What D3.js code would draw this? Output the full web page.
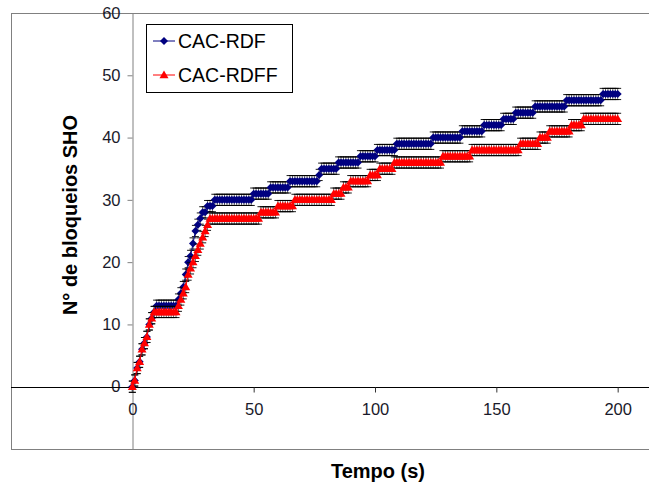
<!DOCTYPE html>
<html lang="pt">
<head>
<meta charset="UTF-8">
<title>N° de bloqueios SHO</title>
<script src="https://d3js.org/d3.v7.min.js"></script>
<style>
  body { margin: 0; background: #fff; }
  svg { display: block; font-family: "Liberation Sans", Arial, sans-serif; }
  .tick text { font-size: 16.5px; fill: #1a1a2a; }
</style>
</head>
<body>
<script>
// time in seconds, one point per second
const tempo = d3.range(0, 201);

// CAC-RDF (blue diamonds)
const cacRdf = [
  0,1,3,4,6,7,8,10,11,12,
  13,13,13,13,13,13,13,13,13,14,
  15,16,18,20,21,23,25,26,27,28,
  28,29,29,29,30,30,30,30,30,30,
  30,30,30,30,30,30,30,30,30,30,
  31,31,31,31,31,31,31,32,32,32,
  32,32,32,32,32,33,33,33,33,33,
  33,33,33,33,33,33,33,34,35,35,
  35,35,35,35,35,36,36,36,36,36,
  36,36,36,36,37,37,37,37,37,37,
  37,38,38,38,38,38,38,38,38,39,
  39,39,39,39,39,39,39,39,39,39,
  39,39,39,39,40,40,40,40,40,40,
  40,40,40,40,40,40,41,41,41,41,
  41,41,41,41,41,42,42,42,42,42,
  42,42,42,43,43,43,43,43,44,44,
  44,44,44,44,44,44,45,45,45,45,
  45,45,45,45,45,45,45,45,45,46,
  46,46,46,46,46,46,46,46,46,46,
  46,46,46,46,47,47,47,47,47,47,
  47
];

// CAC-RDFF (red triangles)
const cacRdff = [
  0,1,3,4,6,7,8,10,11,12,
  12,12,12,12,12,12,12,12,12,13,
  14,15,16,18,19,20,21,22,23,24,
  25,26,27,27,27,27,27,27,27,27,
  27,27,27,27,27,27,27,27,27,27,
  27,27,27,28,28,28,28,28,28,28,
  29,29,29,29,29,29,29,30,30,30,
  30,30,30,30,30,30,30,30,30,30,
  30,30,30,31,31,31,31,32,32,32,
  33,33,33,33,33,33,33,33,34,34,
  34,34,35,35,35,35,35,35,36,36,
  36,36,36,36,36,36,36,36,36,36,
  36,36,36,36,36,36,36,36,37,37,
  37,37,37,37,37,37,37,37,37,37,
  38,38,38,38,38,38,38,38,38,38,
  38,38,38,38,38,38,38,38,38,38,
  39,39,39,39,39,39,39,39,40,40,
  40,40,41,41,41,41,41,41,41,41,
  41,42,42,42,42,42,43,43,43,43,
  43,43,43,43,43,43,43,43,43,43,
  43
];

const errAmount = 0.9;
const xTicks = [0, 50, 100, 150, 200];
const yTicks = [-10, 0, 10, 20, 30, 40, 50, 60];

const width = 649, height = 487;

const svg = d3.select("body").append("svg")
    .attr("width", width)
    .attr("height", height);

// plot area
const x = d3.scaleLinear().domain([-50, 250]).range([11, 739]);
const y = d3.scaleLinear().domain([-10, 60]).range([449, 13]);

svg.append("rect")
    .attr("x", 11.5).attr("y", 13.5)
    .attr("width", 760).attr("height", 436)
    .attr("fill", "none")
    .attr("stroke", "#808080");

// y axis at x = 0
const yAxis = svg.append("g")
    .attr("transform", `translate(${Math.round(x(0)) + 0.5},0)`)
    .call(d3.axisLeft(y).tickValues(yTicks).tickSize(5).tickPadding(7)
        .tickFormat(d => d < 0 ? "" : d));
yAxis.select(".domain").attr("stroke", "#808080");
yAxis.selectAll(".tick line").attr("stroke", "#808080");

// x axis at y = 0
const xAxis = svg.append("g")
    .attr("transform", `translate(0,${Math.round(y(0)) + 0.5})`)
    .call(d3.axisBottom(x).tickValues(xTicks).tickSize(5).tickPadding(11));
xAxis.select(".domain").attr("d", `M11,0H${width}`).attr("stroke", "#000");
xAxis.selectAll(".tick line").attr("stroke", "#333");

const series = [
  {name: "CAC-RDF", values: cacRdf, color: "#000080", shape: "diamond"},
  {name: "CAC-RDFF", values: cacRdff, color: "#ff0000", shape: "triangle"}
];

const shapes = {
  diamond: "M0,-4L4,0L0,4L-4,0Z",
  triangle: "M0,-4.5L4.5,3.2L-4.5,3.2Z"
};

const line = d3.line()
    .x((d, i) => x(tempo[i]))
    .y(d => y(d));

series.forEach(s => {
  const g = svg.append("g");

  // error bars
  const eb = g.append("g").attr("stroke", "#000").attr("stroke-width", 0.9);
  eb.selectAll("line.v")
    .data(s.values)
    .join("line")
    .attr("class", "v")
    .attr("x1", (d, i) => x(tempo[i])).attr("x2", (d, i) => x(tempo[i]))
    .attr("y1", d => y(d - errAmount)).attr("y2", d => y(d + errAmount))
    .attr("stroke", "#555");
  [1, -1].forEach(sign => {
    eb.selectAll("line.c" + (sign > 0 ? "p" : "m"))
      .data(s.values)
      .join("line")
      .attr("class", "c" + (sign > 0 ? "p" : "m"))
      .attr("x1", (d, i) => x(tempo[i]) - 3.5).attr("x2", (d, i) => x(tempo[i]) + 3.5)
      .attr("y1", d => y(d + sign * errAmount)).attr("y2", d => y(d + sign * errAmount));
  });

  g.append("path")
    .datum(s.values)
    .attr("fill", "none")
    .attr("stroke", s.color)
    .attr("stroke-width", 1)
    .attr("d", line);

  g.selectAll("path.m")
    .data(s.values)
    .join("path")
    .attr("class", "m")
    .attr("d", shapes[s.shape])
    .attr("transform", (d, i) => `translate(${x(tempo[i])},${y(d)})`)
    .attr("fill", s.color);
});

// legend
const legend = svg.append("g");
legend.append("rect")
    .attr("x", 146.5).attr("y", 24.5)
    .attr("width", 146).attr("height", 68)
    .attr("fill", "#fff")
    .attr("stroke", "#000");
series.forEach((s, i) => {
  const ly = 41 + i * 34;
  legend.append("line")
    .attr("x1", 153).attr("x2", 175)
    .attr("y1", ly).attr("y2", ly)
    .attr("stroke", s.color).attr("stroke-width", 1);
  legend.append("path")
    .attr("d", shapes[s.shape])
    .attr("transform", `translate(164,${ly})`)
    .attr("fill", s.color);
  legend.append("text")
    .attr("x", 178).attr("y", ly + 7)
    .attr("font-size", "19.5px")
    .attr("fill", "#000")
    .text(s.name);
});

// axis titles
svg.append("text")
    .attr("transform", "translate(77,215) rotate(-90)")
    .attr("text-anchor", "middle")
    .attr("font-size", "20px")
    .attr("font-weight", "bold")
    .text("N° de bloqueios SHO");

svg.append("text")
    .attr("x", 378).attr("y", 478)
    .attr("text-anchor", "middle")
    .attr("font-size", "20px")
    .attr("font-weight", "bold")
    .text("Tempo (s)");
</script>
</body>
</html>
